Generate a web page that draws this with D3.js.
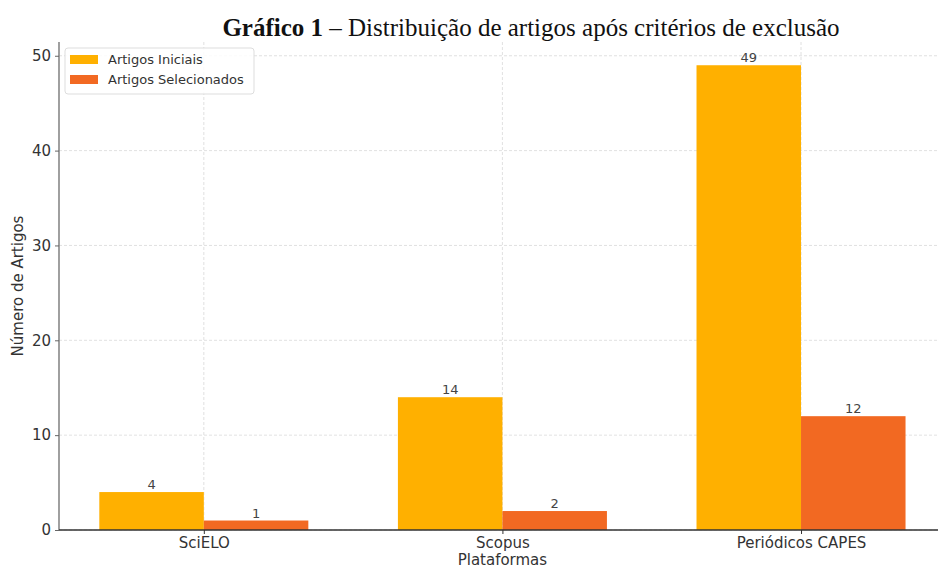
<!DOCTYPE html>
<html>
<head>
<meta charset="utf-8">
<script src="https://cdn.jsdelivr.net/npm/d3@7"></script>
<style>
  body { margin: 0; background: #fff; }
  svg text { font-family: "DejaVu Sans", sans-serif; }
</style>
</head>
<body>
<script>
// data
var platforms = ["SciELO", "Scopus", "Periódicos CAPES"];
var seriesNames = ["Artigos Iniciais", "Artigos Selecionados"];
var iniciais = [4, 14, 49];
var selecionados = [1, 2, 12];
var yTicks = [0, 10, 20, 30, 40, 50];

var W = 938, H = 569;
var margin = { top: 42, left: 59, bottom: 39 };
var height = H - margin.top - margin.bottom;
var colors = ["#FFB000", "#F26922"];

var svg = d3.select("body").append("svg")
    .attr("width", W)
    .attr("height", H);

// x in "category units" like matplotlib: -0.485 .. 2.485
var x = d3.scaleLinear().domain([-0.485, 2.485]).range([margin.left, margin.left + 2.97 * 298.6]);
var y = d3.scaleLinear().domain([0, 51.45]).range([margin.top + height, margin.top]);
var barW = 0.35;

// grid
var grid = svg.append("g");
grid.selectAll("line.h").data(yTicks).enter().append("line")
    .attr("x1", margin.left).attr("x2", W)
    .attr("y1", function (d) { return y(d); }).attr("y2", function (d) { return y(d); })
    .attr("stroke", "#d9d9d9").attr("stroke-dasharray", "3,2").attr("stroke-width", 0.8);
grid.selectAll("line.v").data(platforms).enter().append("line")
    .attr("x1", function (d, i) { return x(i); }).attr("x2", function (d, i) { return x(i); })
    .attr("y1", margin.top).attr("y2", y(0))
    .attr("stroke", "#d9d9d9").attr("stroke-dasharray", "3,2").attr("stroke-width", 0.8);

// bars
var all = [iniciais, selecionados];
all.forEach(function (vals, s) {
    var g = svg.append("g").attr("fill", colors[s]);
    g.selectAll("rect").data(vals).enter().append("rect")
        .attr("x", function (d, i) { return x(i + (s === 0 ? -barW : 0)); })
        .attr("y", function (d) { return y(d); })
        .attr("width", x(barW) - x(0))
        .attr("height", function (d) { return y(0) - y(d); });
    g.selectAll("text").data(vals).enter().append("text")
        .attr("x", function (d, i) { return x(i + (s === 0 ? -barW / 2 : barW / 2)); })
        .attr("y", function (d) { return y(d) - 3; })
        .attr("text-anchor", "middle")
        .attr("fill", "#444")
        .style("font-size", "13px")
        .text(function (d) { return d; });
});

// y axis
var yAxis = svg.append("g")
    .attr("transform", "translate(" + margin.left + ",0)")
    .call(d3.axisLeft(y).tickValues(yTicks).tickSize(4).tickPadding(4));
yAxis.select(".domain").attr("stroke", "#888").attr("stroke-width", 1.6)
    .attr("d", "M0," + y(0) + "V" + margin.top);
yAxis.selectAll(".tick line").attr("stroke", "#666");
yAxis.selectAll(".tick text").attr("fill", "#333").style("font-size", "15px");

// x axis
var xAxis = svg.append("g")
    .attr("transform", "translate(0," + y(0) + ")")
    .call(d3.axisBottom(x).tickValues([0, 1, 2]).tickFormat(function (d) { return platforms[d]; })
        .tickSize(4).tickPadding(3));
xAxis.select(".domain").attr("stroke", "#333").attr("stroke-width", 1.4)
    .attr("d", "M" + margin.left + ",0H" + W);
xAxis.selectAll(".tick line").attr("stroke", "#333");
xAxis.selectAll(".tick text").attr("fill", "#333").style("font-size", "15px");

// axis labels
svg.append("text")
    .attr("transform", "translate(23," + (margin.top + height / 2) + ") rotate(-90)")
    .attr("text-anchor", "middle")
    .attr("fill", "#333")
    .style("font-size", "15px")
    .text("Número de Artigos");
svg.append("text")
    .attr("x", x(1)).attr("y", 565)
    .attr("text-anchor", "middle")
    .attr("fill", "#333")
    .style("font-size", "15px")
    .text("Plataformas");

// title
var title = svg.append("text")
    .attr("x", 531).attr("y", 36)
    .attr("text-anchor", "middle")
    .style("font-family", "'Liberation Serif', serif")
    .style("font-size", "25px")
    .attr("fill", "#111");
title.append("tspan").attr("font-weight", "bold").text("Gráfico 1");
title.append("tspan").text(" – Distribuição de artigos após critérios de exclusão");

// legend
var legend = svg.append("g").attr("transform", "translate(65,48)");
legend.append("rect")
    .attr("width", 189).attr("height", 46).attr("rx", 3)
    .attr("fill", "#fff").attr("fill-opacity", 0.85)
    .attr("stroke", "#ddd");
seriesNames.forEach(function (name, i) {
    legend.append("rect")
        .attr("x", 5).attr("y", 7 + i * 20)
        .attr("width", 28).attr("height", 9)
        .attr("fill", colors[i]);
    legend.append("text")
        .attr("x", 43).attr("y", 16 + i * 20)
        .attr("fill", "#333")
        .style("font-size", "13px")
        .text(name);
});
</script>
</body>
</html>
